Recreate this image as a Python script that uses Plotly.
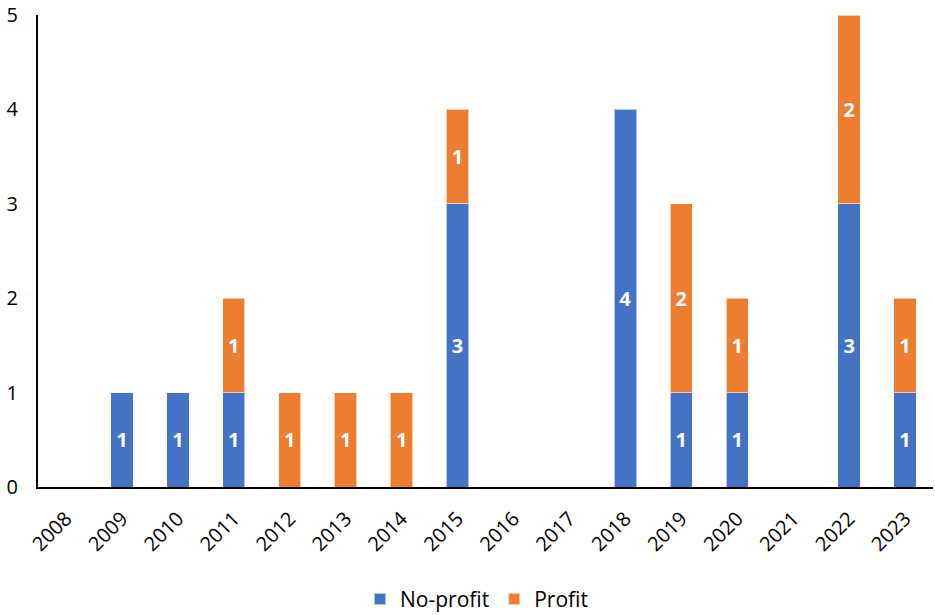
import plotly.graph_objects as go

years = [str(y) for y in range(2008, 2024)]
no_profit = [0, 1, 1, 1, 0, 0, 0, 3, 0, 0, 4, 1, 1, 0, 3, 1]
profit = [0, 0, 0, 1, 1, 1, 1, 1, 0, 0, 0, 2, 1, 0, 2, 1]

BLUE = "#4472C4"
ORANGE = "#ED7D31"
FONT = "Open Sans"

def nz(vals):
    return [v if v else None for v in vals]

fig = go.Figure()
for name, vals, color in [("No-profit", no_profit, BLUE), ("Profit", profit, ORANGE)]:
    fig.add_trace(go.Bar(
        x=years, y=nz(vals), name=name,
        marker=dict(color=color, line=dict(color="rgba(255,255,255,0.6)", width=1)),
        text=nz(vals), texttemplate="<b>%{text}</b>",
        textposition="inside", insidetextanchor="middle", textangle=0,
        textfont=dict(color="white", size=20, family=FONT),
    ))

fig.update_layout(
    barmode="stack",
    bargap=0.6,
    width=935, height=615,
    margin=dict(l=38, r=2, t=15, b=128, autoexpand=False),
    plot_bgcolor="white", paper_bgcolor="white",
    font=dict(family=FONT, size=20, color="black"),
    showlegend=True,
    legend=dict(orientation="h", x=0.49, xanchor="center", y=-0.238, yanchor="middle",
                font=dict(size=21, family=FONT), itemsizing="constant",
                traceorder="normal", itemwidth=30),
    uniformtext=dict(mode=False),
)
fig.update_xaxes(
    type="category", tickangle=-45, showline=True, linecolor="black", linewidth=2,
    ticks="", showgrid=False, tickfont=dict(size=20, family=FONT), automargin=False,
    ticklabelstandoff=10,
)
fig.update_yaxes(
    range=[0, 5.001], tickvals=[0, 1, 2, 3, 4, 5], showline=True, linecolor="black", linewidth=2,
    ticks="", showgrid=False, zeroline=False, tickfont=dict(size=20, family=FONT),
    automargin=False, ticklabelstandoff=14, ticklabeloverflow="allow",
)
fig.write_html("out.html", config={"displayModeBar": False},
               post_script="document.body.style.margin='0';document.body.style.overflow='hidden';")
